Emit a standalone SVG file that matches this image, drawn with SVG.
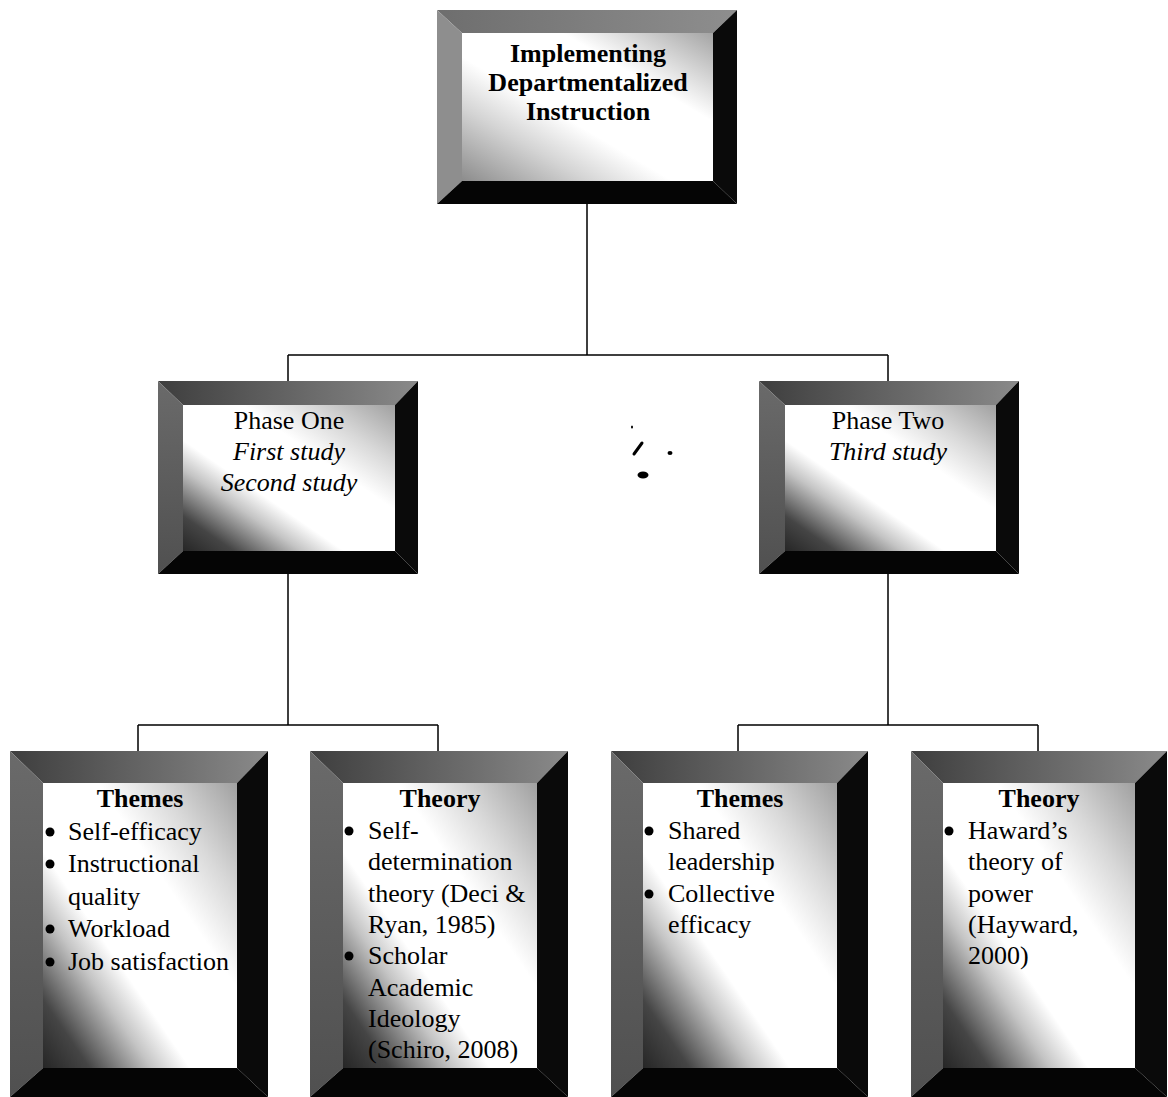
<svg xmlns="http://www.w3.org/2000/svg" width="1168" height="1097" viewBox="0 0 1168 1097">
<defs>
<linearGradient id="inner" x1="0" y1="1" x2="1" y2="0">
<stop offset="0" stop-color="#262626"/>
<stop offset="0.12" stop-color="#454545"/>
<stop offset="0.28" stop-color="#c4c4c4"/>
<stop offset="0.38" stop-color="#ffffff"/>
<stop offset="0.64" stop-color="#ffffff"/>
<stop offset="0.8" stop-color="#d8d8d8"/>
<stop offset="1" stop-color="#a0a0a0"/>
</linearGradient>
<linearGradient id="innerTop" x1="0" y1="1" x2="1" y2="0">
<stop offset="0" stop-color="#8c8c8c"/>
<stop offset="0.25" stop-color="#d4d4d4"/>
<stop offset="0.42" stop-color="#ffffff"/>
<stop offset="0.7" stop-color="#ffffff"/>
<stop offset="1" stop-color="#a4a4a4"/>
</linearGradient>
<linearGradient id="topBevel" x1="0" y1="0" x2="1" y2="0">
<stop offset="0" stop-color="#3e3e3e"/>
<stop offset="1" stop-color="#8a8a8a"/>
</linearGradient>
<linearGradient id="leftBevel" x1="0" y1="0" x2="0" y2="1">
<stop offset="0" stop-color="#6a6a6a"/>
<stop offset="1" stop-color="#505050"/>
</linearGradient>
<linearGradient id="topBevelT" x1="0" y1="0" x2="1" y2="0">
<stop offset="0" stop-color="#6e6e6e"/>
<stop offset="1" stop-color="#8e8e8e"/>
</linearGradient>
</defs>
<style>
.t{fill:url(#topBevel)}
.l{fill:url(#leftBevel)}
.r{fill:#0a0a0a}
.b{fill:#050505}
.in{fill:url(#inner)}
text{font-family:"Liberation Serif","Times New Roman",serif;font-size:26px;fill:#000}
.c{text-anchor:middle}
.bold{font-weight:bold}
.it{font-style:italic}
.con{stroke:#000;stroke-width:1.5;fill:none}
</style>
<rect width="1168" height="1097" fill="#fff"/>

<g id="connectors">
<path class="con" d="M587,204 V355 M288,355 H888 M288,355 V381 M888,355 V381"/>
<path class="con" d="M288,574 V725 M138,725 H438 M138,725 V751 M438,725 V751"/>
<path class="con" d="M888,574 V725 M738,725 H1038 M738,725 V751 M1038,725 V751"/>
</g>

<g id="node-top">
<polygon fill="url(#topBevelT)" points="437,10 737,10 713,33 462,33"/>
<polygon fill="#8e8e8e" points="437,10 462,33 462,181 437,204"/>
<polygon class="b" points="437,204 462,181 713,181 737,204"/>
<polygon class="r" points="737,10 737,204 713,181 713,33"/>
<rect x="462" y="33" width="251" height="148" fill="url(#innerTop)"/>
<text class="c bold" x="588" y="62">Implementing</text>
<text class="c bold" x="588" y="91">Departmentalized</text>
<text class="c bold" x="588" y="120">Instruction</text>
</g>

<g id="node-phase-one">
<polygon class="t" points="158,381 418,381 395,405 183,405"/>
<polygon class="l" points="158,381 183,405 183,551 158,574"/>
<polygon class="b" points="158,574 183,551 395,551 418,574"/>
<polygon class="r" points="418,381 418,574 395,551 395,405"/>
<rect class="in" x="183" y="405" width="212" height="146"/>
<text class="c" x="289" y="429">Phase One</text>
<text class="c it" x="289" y="460">First study</text>
<text class="c it" x="289" y="491">Second study</text>
</g>

<g id="node-phase-two">
<polygon class="t" points="759,381 1019,381 996,405 785,405"/>
<polygon class="l" points="759,381 785,405 785,551 759,574"/>
<polygon class="b" points="759,574 785,551 996,551 1019,574"/>
<polygon class="r" points="1019,381 1019,574 996,551 996,405"/>
<rect class="in" x="785" y="405" width="211" height="146"/>
<text class="c" x="888" y="429">Phase Two</text>
<text class="c it" x="888" y="460">Third study</text>
</g>

<g id="node-themes-1">
<polygon class="t" points="10,751 268,751 237,783 43,783"/>
<polygon class="l" points="10,751 43,783 43,1068 10,1097"/>
<polygon class="b" points="10,1097 43,1068 237,1068 268,1097"/>
<polygon class="r" points="268,751 268,1097 237,1068 237,783"/>
<rect class="in" x="43" y="783" width="194" height="285"/>
<text class="c bold" x="140" y="807">Themes</text>
<circle cx="50" cy="832" r="4.5"/>
<text x="68" y="840">Self-efficacy</text>
<circle cx="50" cy="864" r="4.5"/>
<text x="68" y="872">Instructional</text>
<text x="68" y="905">quality</text>
<circle cx="50" cy="929" r="4.5"/>
<text x="68" y="937">Workload</text>
<circle cx="50" cy="962" r="4.5"/>
<text x="68" y="970">Job satisfaction</text>
</g>

<g id="node-theory-1">
<polygon class="t" points="310,751 568,751 537,783 343,783"/>
<polygon class="l" points="310,751 343,783 343,1068 310,1097"/>
<polygon class="b" points="310,1097 343,1068 537,1068 568,1097"/>
<polygon class="r" points="568,751 568,1097 537,1068 537,783"/>
<rect class="in" x="343" y="783" width="194" height="285"/>
<text class="c bold" x="440" y="807">Theory</text>
<circle cx="349" cy="831" r="4.5"/>
<text x="368" y="839">Self-</text>
<text x="368" y="870">determination</text>
<text x="368" y="902">theory (Deci &amp;</text>
<text x="368" y="933">Ryan, 1985)</text>
<circle cx="349" cy="956" r="4.5"/>
<text x="368" y="964">Scholar</text>
<text x="368" y="996">Academic</text>
<text x="368" y="1027">Ideology</text>
<text x="368" y="1058">(Schiro, 2008)</text>
</g>

<g id="node-themes-2">
<polygon class="t" points="611,751 868,751 837,783 643,783"/>
<polygon class="l" points="611,751 643,783 643,1068 611,1097"/>
<polygon class="b" points="611,1097 643,1068 837,1068 868,1097"/>
<polygon class="r" points="868,751 868,1097 837,1068 837,783"/>
<rect class="in" x="643" y="783" width="194" height="285"/>
<text class="c bold" x="740" y="807">Themes</text>
<circle cx="649" cy="831" r="4.5"/>
<text x="668" y="839">Shared</text>
<text x="668" y="870">leadership</text>
<circle cx="649" cy="894" r="4.5"/>
<text x="668" y="902">Collective</text>
<text x="668" y="933">efficacy</text>
</g>

<g id="node-theory-2">
<polygon class="t" points="911,751 1167,751 1135,783 943,783"/>
<polygon class="l" points="911,751 943,783 943,1068 911,1097"/>
<polygon class="b" points="911,1097 943,1068 1135,1068 1167,1097"/>
<polygon class="r" points="1167,751 1167,1097 1135,1068 1135,783"/>
<rect class="in" x="943" y="783" width="192" height="285"/>
<text class="c bold" x="1039" y="807">Theory</text>
<circle cx="949" cy="831" r="4.5"/>
<text x="968" y="839">Haward’s</text>
<text x="968" y="870">theory of</text>
<text x="968" y="902">power</text>
<text x="968" y="933">(Hayward,</text>
<text x="968" y="964">2000)</text>
</g>

<g id="specks" fill="#000">
<ellipse cx="632" cy="427" rx="1" ry="1.5"/>
<path d="M634,454 L642,443" stroke="#000" stroke-width="3" stroke-linecap="round"/>
<ellipse cx="670" cy="453" rx="2.5" ry="2"/>
<ellipse cx="643" cy="475" rx="5.5" ry="3.5"/>
</g>
</svg>
